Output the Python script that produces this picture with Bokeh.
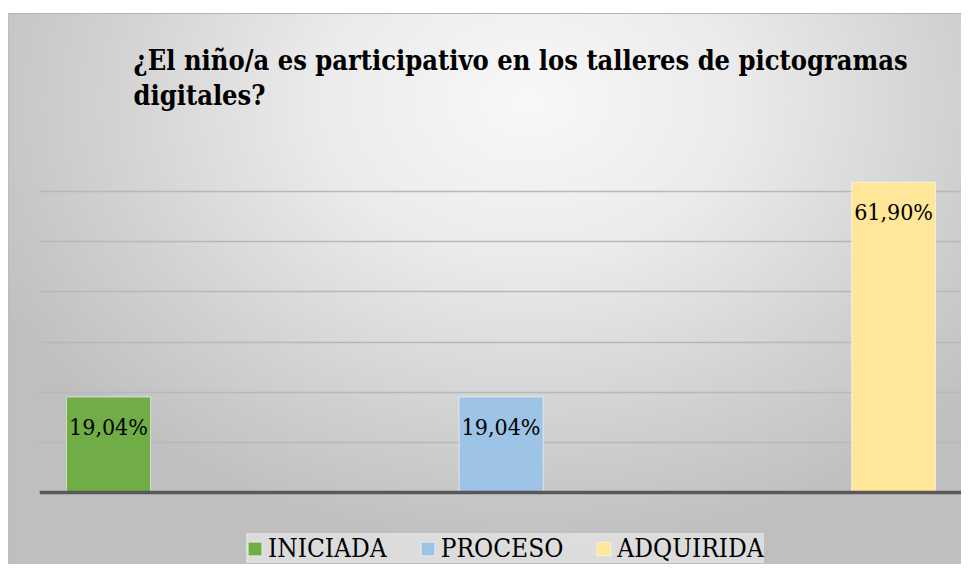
from bokeh.plotting import figure
from bokeh.models import (Range1d, Grid, FixedTicker, Span, Legend, LegendItem,
                          LabelSet, ColumnDataSource, Title)
from bokeh.core.properties import value
from bokeh.embed import file_html
from bokeh.resources import INLINE

# ---- data ----
categories = ["INICIADA", "PROCESO", "ADQUIRIDA"]
values = [19.04, 19.04, 61.90]
colors = ["#70ad47", "#9dc3e6", "#ffe699"]
grid_ticks = [10, 20, 30, 40, 50, 60, 70]
title_text = "¿El niño/a es participativo en los talleres de pictogramas\ndigitales?"

labels = [f"{v:.2f}%".replace(".", ",") for v in values]
xs = list(range(len(categories)))

FONT = "DejaVu Serif Condensed"

p = figure(width=961, height=564, output_backend="svg", toolbar_location=None,
           x_range=Range1d(-0.1758, 2.173), y_range=Range1d(-14.36, 70),
           x_axis_location=None, y_axis_location=None,
           min_border_left=39, min_border_right=0, min_border_top=141,
           min_border_bottom=0)

p.grid.visible = False
p.border_fill_color = None
p.background_fill_color = None
p.outline_line_color = None
p.styles = {
    "background": (
        "linear-gradient(#ffffff,#ffffff) 0 0/100% 13px no-repeat, "
        "linear-gradient(#ffffff,#ffffff) 0 0/8px 100% no-repeat, "
        "linear-gradient(#b3b3b3,#b3b3b3) 0 13px/100% 1px no-repeat, "
        "linear-gradient(#bcbcbc,#bcbcbc) 8px 0/1px 100% no-repeat, "
        "radial-gradient(ellipse 62% 80% at 55% 18%, #f8f8f8 0%, #ebebeb 35%, "
        "#d1d1d1 72%, #bfbfbf 100%)"
    )
}

grid = Grid(dimension=1, ticker=FixedTicker(ticks=grid_ticks),
            grid_line_color="#b8b8b8", grid_line_width=1.3)
p.add_layout(grid)

items = []
for i, (cat, v, c) in enumerate(zip(categories, values, colors)):
    src = ColumnDataSource(dict(x=[xs[i]], top=[v]))
    r = p.vbar(x="x", top="top", bottom=0, width=0.214, source=src,
               fill_color=c, line_color="white", line_alpha=0.55, line_width=1)
    items.append(LegendItem(label=cat, renderers=[r]))

p.add_layout(Span(location=0, dimension="width", line_color="#595959",
                  line_width=3.5))

lab_src = ColumnDataSource(dict(x=xs, y=values, t=labels))
p.add_layout(LabelSet(x="x", y="y", text="t", source=lab_src,
                      text_align="center", text_baseline="middle", y_offset=-30,
                      text_font=value(FONT), text_font_size="23px",
                      text_color="#000000"))

legend = Legend(items=items, orientation="horizontal", location=(207, 1),
                glyph_width=17, glyph_height=17, label_standoff=5, spacing=32,
                padding=7, label_text_font=FONT,
                label_text_font_size="26px", label_text_color="#000000",
                background_fill_color="#f4f4f4", background_fill_alpha=0.55,
                border_line_color=None)
p.add_layout(legend, "center")

title_kw = dict(text=title_text, align="left", offset=94, standoff=60,
                text_font=FONT, text_font_size="27px",
                text_font_style="bold", text_color="#000000")
if "text_line_height" in Title.properties():
    title_kw["text_line_height"] = 1.15
p.add_layout(Title(**title_kw), "above")

open("out.html", "w").write(file_html(p, INLINE))
